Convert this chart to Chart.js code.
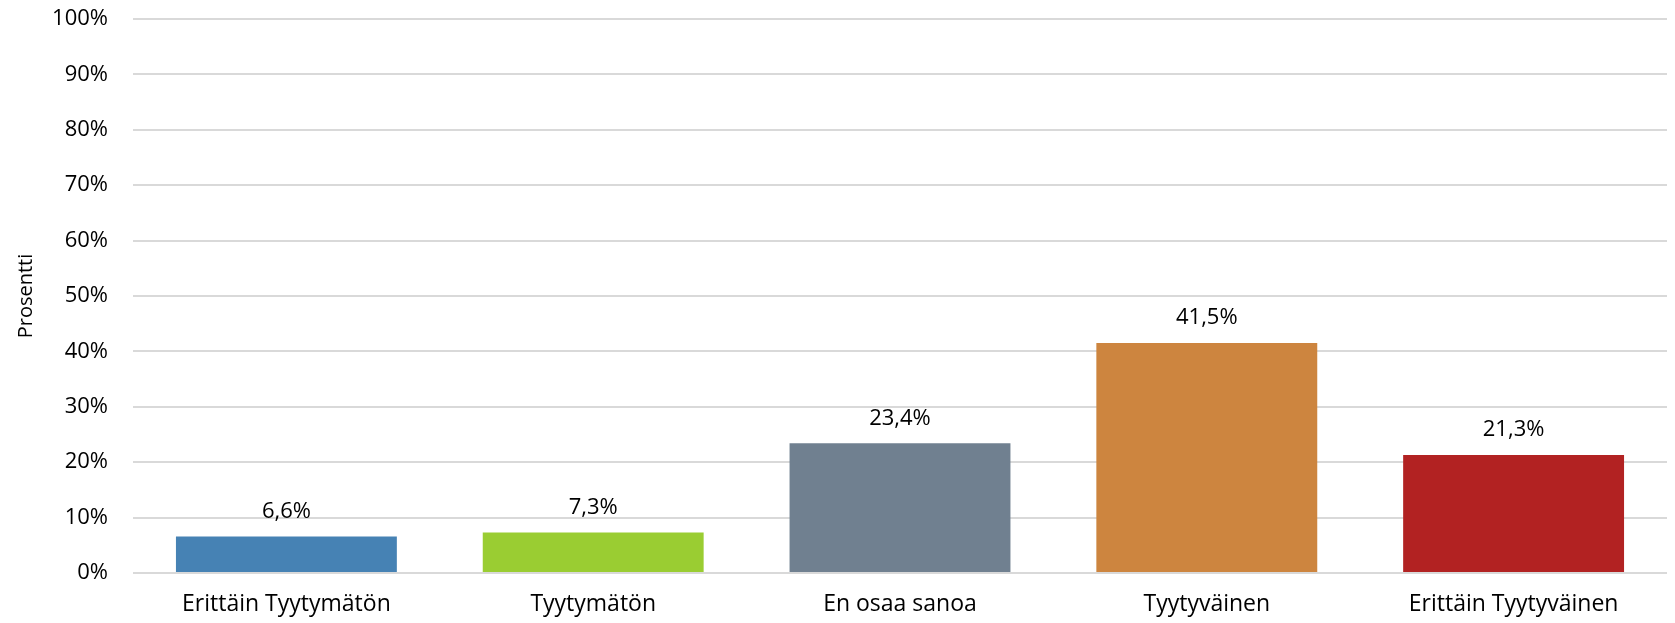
<!DOCTYPE html>
<html>
<head>
<meta charset="utf-8">
<script src="https://cdn.jsdelivr.net/npm/chart.js@4/dist/chart.umd.min.js"></script>
<style>
  html, body { margin: 0; padding: 0; background: #fff; }
  #wrap { width: 1675px; height: 623px; }
</style>
</head>
<body>
<div id="wrap"><canvas id="chart" width="1675" height="623"></canvas></div>
<script>
// chart data
const categories = ['Erittäin Tyytymätön', 'Tyytymätön', 'En osaa sanoa', 'Tyytyväinen', 'Erittäin Tyytyväinen'];
const values = [6.6, 7.3, 23.4, 41.5, 21.3];
const barColors = ['#4682B4', '#9ACD32', '#708090', '#CD853F', '#B22222'];
const yTicks = [0, 10, 20, 30, 40, 50, 60, 70, 80, 90, 100];

const FONT = "'Open Sans', 'Noto Sans', sans-serif";

// draw value labels above each bar
const valueLabels = {
    id: 'valueLabels',
    afterDatasetsDraw(chart) {
        const ctx = chart.ctx;
        const meta = chart.getDatasetMeta(0);
        ctx.save();
        ctx.font = '22px ' + FONT;
        ctx.fillStyle = '#000';
        ctx.textAlign = 'center';
        ctx.textBaseline = 'middle';
        meta.data.forEach((bar, i) => {
            const txt = values[i].toFixed(1).replace('.', ',') + '%';
            ctx.fillText(txt, bar.x, bar.y - 25);
        });
        ctx.restore();
    }
};

new Chart(document.getElementById('chart').getContext('2d'), {
    type: 'bar',
    data: {
        labels: categories,
        datasets: [{
            data: values,
            backgroundColor: barColors,
            borderWidth: 0,
            barPercentage: 0.72,
            categoryPercentage: 1.0
        }]
    },
    options: {
        responsive: false,
        animation: false,
        layout: { padding: { top: 19, right: 8, left: 0, bottom: 0 } },
        plugins: {
            legend: { display: false },
            tooltip: { enabled: false }
        },
        scales: {
            x: {
                grid: { display: false, drawTicks: false },
                border: { display: false },
                ticks: {
                    color: '#000',
                    font: { family: FONT, size: 23 },
                    padding: 18,
                    maxRotation: 0
                },
                afterFit(scale) { scale.height = 50; }
            },
            y: {
                min: 0,
                max: 100,
                afterBuildTicks(scale) {
                    scale.ticks = yTicks.map(v => ({ value: v }));
                },
                grid: { color: '#d9d9d9', lineWidth: 2, drawTicks: false },
                border: { display: false },
                ticks: {
                    color: '#000',
                    font: { family: FONT, size: 22 },
                    padding: 25,
                    callback: v => v + '%'
                },
                title: {
                    display: true,
                    text: 'Prosentti',
                    color: '#000',
                    font: { family: FONT, size: 20 },
                    padding: { top: 14, bottom: 0 }
                },
                afterFit(scale) {
                    scale.width = 133;
                    scale.paddingTop = 0;
                    scale.paddingBottom = 0;
                }
            }
        }
    },
    plugins: [valueLabels]
});
</script>
</body>
</html>
